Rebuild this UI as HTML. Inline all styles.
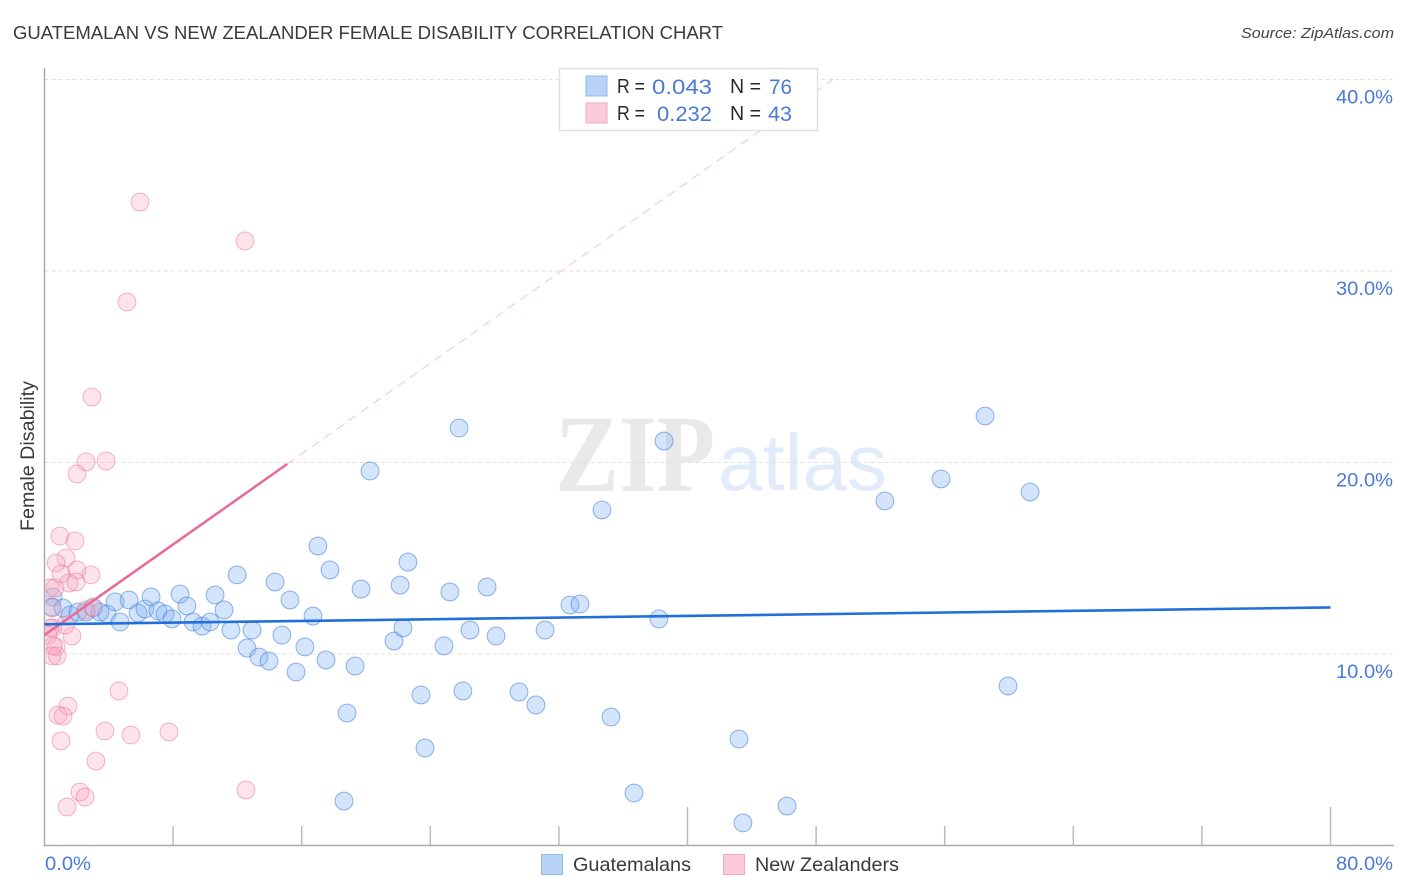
<!DOCTYPE html>
<html lang="en">
<head>
<meta charset="utf-8">
<title>Guatemalan vs New Zealander Female Disability Correlation Chart</title>
<style>
  html, body { margin: 0; padding: 0; background: #fff; }
  svg { display: block; font-family: "Liberation Sans", sans-serif; }
</style>
</head>
<body>
<svg id="chart" xmlns="http://www.w3.org/2000/svg" width="1406" height="892" viewBox="0 0 1406 892">
  <defs>
    <clipPath id="plot-clip"><rect x="45.5" y="60" width="1350" height="785"></rect></clipPath>
  </defs>
  <rect x="0" y="0" width="1406" height="892" fill="#ffffff"></rect>

  <text x="13" y="39" font-size="18.5" fill="#3a3a3a" textLength="710" lengthAdjust="spacingAndGlyphs">GUATEMALAN VS NEW ZEALANDER FEMALE DISABILITY CORRELATION CHART</text>
  <text x="1241" y="38" font-size="15" font-style="italic" fill="#444444" textLength="153" lengthAdjust="spacingAndGlyphs">Source: ZipAtlas.com</text>

  <g>
    <text x="555" y="491" font-family="'Liberation Serif', serif" font-size="110" font-weight="bold" fill="#e9e9e9" textLength="160" lengthAdjust="spacingAndGlyphs">ZIP</text>
    <text x="718" y="490" font-size="80" fill="#e2ebf9" textLength="169" lengthAdjust="spacingAndGlyphs">atlas</text>
  </g>

  <g id="grid"></g>
  <g id="axes"></g>
  <g id="y-labels"></g>
  <g id="x-labels"></g>

  <text transform="translate(34,456) rotate(-90)" text-anchor="middle" font-size="19" fill="#3a3a3a" textLength="150" lengthAdjust="spacingAndGlyphs">Female Disability</text>

  <g id="points" clip-path="url(#plot-clip)"></g>
  <g id="trends"></g>

  <g>
    <rect x="559.5" y="68.5" width="258" height="62" fill="#ffffff" stroke="#e0e0e0" stroke-width="1.5"></rect>
    <rect x="586" y="76" width="21" height="20" fill="#b9d3f6" stroke="#8fb8ec" stroke-width="1"></rect>
    <rect x="586" y="103" width="21" height="20" fill="#fccbdb" stroke="#f3a9c1" stroke-width="1"></rect>
    <text x="617" y="93" font-size="20" fill="#2a2a2a" textLength="28" lengthAdjust="spacingAndGlyphs">R =</text>
    <text x="652" y="94" font-size="21.5" fill="#4a7ad6" textLength="60" lengthAdjust="spacingAndGlyphs">0.043</text>
    <text x="730" y="93" font-size="20" fill="#2a2a2a" textLength="31" lengthAdjust="spacingAndGlyphs">N =</text>
    <text x="769" y="94" font-size="21.5" fill="#4a7ad6" textLength="23" lengthAdjust="spacingAndGlyphs">76</text>
    <text x="617" y="120" font-size="20" fill="#2a2a2a" textLength="28" lengthAdjust="spacingAndGlyphs">R =</text>
    <text x="657" y="121" font-size="21.5" fill="#4a7ad6" textLength="55" lengthAdjust="spacingAndGlyphs">0.232</text>
    <text x="730" y="120" font-size="20" fill="#2a2a2a" textLength="31" lengthAdjust="spacingAndGlyphs">N =</text>
    <text x="768" y="121" font-size="21.5" fill="#4a7ad6" textLength="24" lengthAdjust="spacingAndGlyphs">43</text>
  </g>

  <g>
    <rect x="541.5" y="854.5" width="21" height="20" fill="#b9d3f6" stroke="#8fb8ec" stroke-width="1"></rect>
    <text x="573" y="871" font-size="19.5" fill="#3a3a3a" textLength="118" lengthAdjust="spacingAndGlyphs">Guatemalans</text>
    <rect x="723.5" y="854.5" width="21" height="20" fill="#fccbdb" stroke="#f3a9c1" stroke-width="1"></rect>
    <text x="755" y="871" font-size="19.5" fill="#3a3a3a" textLength="144" lengthAdjust="spacingAndGlyphs">New Zealanders</text>
  </g>
</svg>

<script>
const yTickValues = [10, 20, 30, 40];
const yTickLabels = ["10.0%", "20.0%", "30.0%", "40.0%"];
const xTickValues = [8, 16, 24, 32, 40, 48, 56, 64, 72, 80];
const xMajorTicks = [40, 80];
const xEndLabels = ["0.0%", "80.0%"];

const guatemalanX = [0.53,0.47,1.15,1.59,2.08,2.58,3.02,3.45,3.89,4.39,4.70,5.26,5.82,6.25,6.63,7.06,7.50,7.93,8.43,8.86,9.24,9.80,10.30,10.61,11.17,11.60,11.98,12.60,12.91,13.34,13.97,14.34,14.77,15.27,15.65,16.20,16.70,17.01,17.51,17.76,18.82,18.63,19.32,19.69,20.25,21.74,22.12,22.30,22.61,23.42,23.67,24.85,25.22,25.79,26.03,26.47,27.53,28.09,29.52,30.57,31.14,32.69,33.31,34.68,35.24,36.67,38.22,38.54,43.20,43.45,46.19,52.28,55.77,58.51,59.94,61.31];
const guatemalanY = [12.98,12.45,12.40,12.04,12.19,12.19,12.40,12.19,12.09,12.72,11.67,12.82,12.14,12.35,12.98,12.25,12.09,11.83,13.13,12.51,11.67,11.46,11.67,13.08,12.30,11.25,14.13,10.31,11.25,9.84,9.63,13.76,10.99,12.82,9.06,10.37,11.98,15.64,9.69,14.39,6.92,2.32,9.37,13.39,19.56,10.68,13.60,11.36,14.80,7.86,5.09,10.42,13.24,21.80,8.07,11.25,13.50,10.94,8.02,7.34,11.25,12.56,12.61,17.52,6.71,2.74,11.83,21.12,5.56,1.18,2.06,17.99,19.14,22.43,8.33,18.46];
const zealanderX = [5.94,12.47,5.13,2.95,3.83,2.58,2.02,0.96,1.90,1.34,0.72,2.02,2.89,1.03,1.52,1.96,0.34,0.65,0.47,2.58,3.02,1.71,1.28,0.53,0.34,0.22,0.72,0.53,0.78,0.47,4.63,1.46,0.84,1.15,3.76,5.38,7.74,1.03,3.20,12.53,2.21,2.52,1.40];
const zealanderY = [33.60,31.57,28.38,23.42,20.08,20.03,19.40,16.16,15.90,15.01,14.75,14.39,14.13,14.18,13.71,13.76,13.45,13.45,12.40,12.30,12.45,10.94,11.51,11.36,11.36,10.99,10.37,10.42,9.90,9.90,8.07,7.28,6.81,6.76,5.98,5.77,5.93,5.46,4.41,2.90,2.79,2.53,2.01];

const guatemalanTrendX = [0, 80];
const guatemalanTrendY = [11.55, 12.43];
const zealanderTrendX = [0, 15.1];
const zealanderTrendY = [10.99, 19.92];
const zealanderProjectionX = [15.1, 49.05];
const zealanderProjectionY = [19.92, 40];

const NS = "http://www.w3.org/2000/svg";
function xScale(v) { return 44.5 + v * 16.075; }
function yScale(v) { return 845.5 - v * 19.15; }
function make(tag, attrs, parent) {
  const el = document.createElementNS(NS, tag);
  for (const k in attrs) el.setAttribute(k, attrs[k]);
  parent.appendChild(el);
  return el;
}

const gridG = document.getElementById("grid");
const axesG = document.getElementById("axes");
const yLabG = document.getElementById("y-labels");
const xLabG = document.getElementById("x-labels");
const ptsG = document.getElementById("points");
const trendG = document.getElementById("trends");

yTickValues.forEach(function (v, i) {
  const g = make("line", { x1: 44.5, x2: 1394, y1: yScale(v), y2: yScale(v), stroke: "#e0e0e0", "stroke-width": 1, "stroke-dasharray": "4 3" }, gridG);
  
  
  const t = make("text", { x: 1393, y: yScale(v) + 24, "text-anchor": "end", "font-size": 19.5, fill: "#4a7ad6", textLength: 57, lengthAdjust: "spacingAndGlyphs" }, yLabG);
  t.textContent = yTickLabels[i];
  
  
});

const yAxis = make("line", { x1: 44.5, x2: 44.5, y1: 68, y2: 845.5, stroke: "#aaaaaa", "stroke-width": 1.5 }, axesG);


const xAxis = make("line", { x1: 44, x2: 1394, y1: 845.5, y2: 845.5, stroke: "#aaaaaa", "stroke-width": 1.5 }, axesG);


xTickValues.forEach(function (v) {
  const top = xMajorTicks.indexOf(v) >= 0 ? 807 : 826;
  const tk = make("line", { x1: xScale(v), x2: xScale(v), y1: top, y2: 845.5, stroke: "#bbbbbb", "stroke-width": 1.5 }, axesG);
  
  
});

const x0Label = make("text", { x: 45, y: 870, "font-size": 19.5, fill: "#4a7ad6", textLength: 46, lengthAdjust: "spacingAndGlyphs" }, xLabG);
x0Label.textContent = xEndLabels[0];


const x1Label = make("text", { x: 1393, y: 870, "text-anchor": "end", "font-size": 19.5, fill: "#4a7ad6", textLength: 57, lengthAdjust: "spacingAndGlyphs" }, xLabG);
x1Label.textContent = xEndLabels[1];



guatemalanX.forEach(function (v, i) {
  const c = make("circle", { cx: xScale(v), cy: yScale(guatemalanY[i]), r: 8.9, fill: "rgba(130,178,242,0.34)", stroke: "rgba(70,130,220,0.6)", "stroke-width": 1 }, ptsG);
  
  
});
zealanderX.forEach(function (v, i) {
  const c = make("circle", { cx: xScale(v), cy: yScale(zealanderY[i]), r: 8.9, fill: "rgba(247,165,190,0.3)", stroke: "rgba(235,125,160,0.58)", "stroke-width": 1 }, ptsG);
  
  
});

const proj = make("line", { x1: xScale(zealanderProjectionX[0]), y1: yScale(zealanderProjectionY[0]), x2: xScale(zealanderProjectionX[1]), y2: yScale(zealanderProjectionY[1]), stroke: "#f4c3d3", "stroke-width": 1, "stroke-dasharray": "9 6" }, trendG);


const tz = make("line", { x1: xScale(zealanderTrendX[0]), y1: yScale(zealanderTrendY[0]), x2: xScale(zealanderTrendX[1]), y2: yScale(zealanderTrendY[1]), stroke: "#e8699a", "stroke-width": 2.5 }, trendG);


const tg = make("line", { x1: xScale(guatemalanTrendX[0]), y1: yScale(guatemalanTrendY[0]), x2: xScale(guatemalanTrendX[1]), y2: yScale(guatemalanTrendY[1]), stroke: "#2070d8", "stroke-width": 2.6 }, trendG);


</script>
</body>
</html>
